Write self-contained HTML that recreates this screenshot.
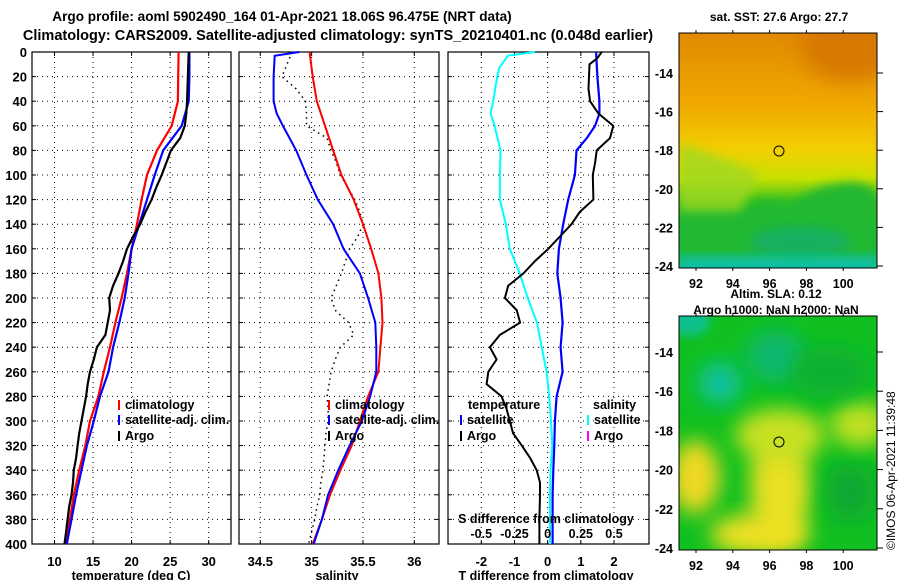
<!DOCTYPE html>
<html><head><meta charset="utf-8">
<style>
body{margin:0;background:#fff;}
svg{display:block;font-family:"Liberation Sans",sans-serif;font-weight:bold;}
</style></head>
<body>
<svg id="fig" width="900" height="580" viewBox="0 0 900 580">
<defs>
<filter id="blur1" x="-20%" y="-20%" width="140%" height="140%"><feGaussianBlur stdDeviation="5"/></filter>
<filter id="blur2" x="-30%" y="-30%" width="160%" height="160%"><feGaussianBlur stdDeviation="10"/></filter>
<linearGradient id="sstg" x1="0" y1="0" x2="0" y2="1">
<stop offset="0" stop-color="#e08a00"/><stop offset="0.3" stop-color="#f0a800"/>
<stop offset="0.5" stop-color="#f2d000"/><stop offset="0.62" stop-color="#c8e000"/>
<stop offset="0.72" stop-color="#30c020"/><stop offset="0.9" stop-color="#10b840"/><stop offset="1" stop-color="#10c8a0"/>
</linearGradient>
<clipPath id="clipA"><rect x="679" y="33" width="198" height="235"/></clipPath>
<clipPath id="clipB"><rect x="679" y="316" width="198" height="234"/></clipPath>
</defs>
<text x="282" y="21" font-size="13.6" text-anchor="middle">Argo profile: aoml 5902490_164 01-Apr-2021 18.06S 96.475E (NRT data)</text>
<text x="338" y="40" font-size="14.5" text-anchor="middle">Climatology: CARS2009. Satellite-adjusted climatology: synTS_20210401.nc (0.048d earlier)</text>

<!-- SST map -->
<g>
<g clip-path="url(#clipA)">
<g transform="translate(0,33) scale(1,1.035) translate(0,-33)">
<rect x="679" y="33" width="198" height="227" fill="url(#sstg)"/>
<ellipse cx="850" cy="45" rx="50" ry="35" fill="#d87800" filter="url(#blur2)"/>
<path d="M679,205 L740,205 Q760,190 790,200 Q820,175 860,178 L877,185 L877,260 L679,260 Z" fill="#20b830" filter="url(#blur1)"/>
<path d="M679,140 Q720,150 760,170 L740,205 L679,205 Z" fill="#a0d820" filter="url(#blur1)" opacity="0.8"/>
<ellipse cx="800" cy="235" rx="50" ry="15" fill="#18b060" filter="url(#blur1)"/>
<rect x="679" y="248" width="198" height="20" fill="#10c0a0" filter="url(#blur1)"/>
</g>
</g>
<rect x="679" y="33" width="198" height="235" fill="none" stroke="#000"/>
<circle cx="779" cy="151" r="5" fill="none" stroke="#000"/>
</g>
<text x="779" y="21" font-size="12" text-anchor="middle">sat. SST: 27.6 Argo: 27.7</text>
<text x="776" y="298" font-size="12" text-anchor="middle">Altim. SLA: 0.12</text>
<text x="776" y="314" font-size="12" text-anchor="middle">Argo h1000: NaN h2000: NaN</text>

<!-- SLA map -->
<g>
<g clip-path="url(#clipB)">
<g transform="translate(0,316) scale(1,1.045) translate(0,-316)">
<rect x="679" y="316" width="198" height="224" fill="#10c020"/>
<ellipse cx="780" cy="480" rx="30" ry="55" fill="#e8e020" filter="url(#blur2)"/>
<ellipse cx="780" cy="430" rx="45" ry="25" fill="#c8e020" filter="url(#blur2)"/>
<ellipse cx="695" cy="470" rx="25" ry="35" fill="#f0d820" filter="url(#blur2)"/>
<ellipse cx="860" cy="420" rx="30" ry="22" fill="#c0e020" filter="url(#blur2)"/>
<ellipse cx="760" cy="525" rx="50" ry="20" fill="#f0e020" filter="url(#blur2)"/>
<ellipse cx="720" cy="380" rx="22" ry="20" fill="#10c0a0" filter="url(#blur2)"/>
<ellipse cx="776" cy="355" rx="30" ry="25" fill="#10b870" filter="url(#blur2)"/>
<ellipse cx="830" cy="370" rx="40" ry="25" fill="#10b030" filter="url(#blur2)"/>
<ellipse cx="690" cy="320" rx="20" ry="15" fill="#10c090" filter="url(#blur1)"/>
<ellipse cx="850" cy="485" rx="25" ry="28" fill="#10a830" filter="url(#blur2)"/>
</g>
</g>
<rect x="679" y="316" width="198" height="234" fill="none" stroke="#000"/>
<circle cx="779" cy="442" r="5" fill="none" stroke="#000"/>
</g>
<text transform="translate(895,550) rotate(-90)" font-size="12" font-weight="normal">©IMOS 06-Apr-2021 11:39:48</text>
<g id="plots"></g>
</svg>
<script>
// ---- data ----
var depths = [0,20,40,60,80,100,120,140,160,180,200,220,240,260,280,300,320,340,360,380,400];
var tempClim = [26.1,26.05,26.0,25.2,23.3,22.0,21.3,20.7,20.0,19.4,18.7,17.9,17.2,16.4,15.7,14.6,14.0,13.2,12.5,12.0,11.5];
var tempSat  = [27.5,27.5,27.4,26.5,24.1,23.0,22.0,21.0,20.0,19.6,19.1,18.4,17.6,17.0,15.9,15.1,14.2,13.5,12.8,12.2,11.6];
var argoDepths = [0,20,40,50,60,70,80,90,100,110,120,130,140,150,160,170,180,190,200,210,220,230,240,250,260,270,280,290,300,310,320,330,340,350,360,370,380,390,400];
var tempArgo = [27.4,27.3,27.2,27.1,26.9,26.3,25.1,24.5,23.9,23.2,22.6,21.8,21.1,20.2,19.4,18.9,18.3,17.6,17.1,17.2,16.9,16.6,15.5,15.1,14.6,14.3,14.1,13.8,13.5,13.2,13.0,12.8,12.5,12.4,12.2,11.9,11.7,11.5,11.3];
var salClim = [34.98,35.01,35.05,35.13,35.21,35.29,35.41,35.50,35.58,35.65,35.68,35.69,35.67,35.65,35.55,35.47,35.39,35.28,35.18,35.10,35.01];
var salSatDepths = [0,3,20,40,50,60,80,100,120,140,160,180,200,220,240,260,280,300,320,340,360,380,400];
var salSat = [34.88,34.64,34.63,34.63,34.66,34.72,34.85,34.95,35.06,35.21,35.31,35.47,35.55,35.62,35.63,35.63,35.57,35.49,35.37,35.26,35.16,35.10,35.02];
var salArgo = [34.81,34.76,34.71,34.85,34.94,34.95,34.95,35.15,35.19,35.24,35.28,35.35,35.42,35.47,35.50,35.45,35.37,35.33,35.29,35.24,35.19,35.23,35.36,35.41,35.28,35.23,35.19,35.17,35.15,35.16,35.16,35.14,35.13,35.12,35.11,35.09,35.08,35.05,35.03,35.00,34.97];
var salArgoDepths = [0,10,20,30,40,50,60,70,80,90,100,110,120,130,140,150,160,170,180,190,200,210,220,230,240,250,260,270,280,290,300,310,320,330,340,350,360,370,380,390,400];
var tdiffDepths = [0,10,20,40,50,60,70,80,100,120,140,160,180,200,220,240,260,280,300,320,340,360,380,400];
var tdiffSat = [1.46,1.48,1.50,1.56,1.56,1.43,1.18,0.87,0.82,0.62,0.47,0.34,0.29,0.39,0.45,0.39,0.45,0.27,0.22,0.20,0.17,0.15,0.15,0.15];
var tdiffArgoDepths = [0,5,10,30,40,50,60,70,80,90,100,120,130,140,150,160,170,180,190,200,210,220,230,240,250,260,270,280,290,300,310,320,330,340,350,360,380,400];
var tdiffArgo = [1.63,1.5,1.26,1.23,1.28,1.53,1.98,1.88,1.48,1.43,1.36,1.38,0.97,0.72,0.37,0.02,-0.38,-0.73,-1.19,-1.29,-0.93,-0.83,-1.44,-1.74,-1.54,-1.79,-1.84,-1.39,-1.24,-1.14,-1.04,-0.78,-0.53,-0.33,-0.23,-0.23,-0.25,-0.25];
var sdiffDepths = [0,3,13,20,40,50,60,80,100,120,140,160,180,200,220,240,260,280,300,320,340,360,380,400];
var sdiffSat = [-0.095,-0.3,-0.365,-0.38,-0.41,-0.43,-0.40,-0.355,-0.36,-0.36,-0.315,-0.285,-0.21,-0.15,-0.08,-0.045,-0.008,0.012,0.025,0.035,0.022,0.018,0.018,0.018];
var depthTicks = [0,20,40,60,80,100,120,140,160,180,200,220,240,260,280,300,320,340,360,380,400];
var tempTicks = [10,15,20,25,30];
var salTicks = [34.5,35,35.5,36];
var tdiffTicks = [-2,-1,0,1,2];
var sdiffTicks = [-0.5,-0.25,0,0.25,0.5];
var sdiffTickLabels = ["-0.5","-0.25","0","0.25","0.5"];

// ---- layout ----
var NS="http://www.w3.org/2000/svg";
var root=document.getElementById('plots');
var Y0=52,Y1=544;
function yD(d){return Y0+(d/400)*(Y1-Y0);}
function el(tag,attrs,parent){var e=document.createElementNS(NS,tag);for(var k in attrs)e.setAttribute(k,attrs[k]);(parent||root).appendChild(e);return e;}
function linear(d0,d1,r0,r1){return function(v){return r0+(v-d0)/(d1-d0)*(r1-r0);};}
var xT=linear(10,30,54.5,208.7);
var xS=linear(34.5,36,260.3,414.3);
var xTd=linear(-2,2,481.3,614);
var xSd=function(v){return xTd(v*4);};

function panel(name,x0,x1,xf,ticks,labels,showY){
  var g=el('g',{});
  
  
  depthTicks.forEach(function(d){
    if(d>0&&d<400){var l=el('line',{x1:x0,x2:x1,y1:yD(d),y2:yD(d),stroke:'#000','stroke-dasharray':'1,4','stroke-width':1},g);
    
    }
    el('line',{x1:x0,x2:x0+4,y1:yD(d),y2:yD(d),stroke:'#000'},g);
    el('line',{x1:x1-4,x2:x1,y1:yD(d),y2:yD(d),stroke:'#000'},g);
    if(showY){var t=el('text',{x:27,y:yD(d)+5,'font-size':13,'text-anchor':'end'},g);t.textContent=d;
      
      }
  });
  ticks.forEach(function(v,i){
    var x=xf(v);
    var l=el('line',{x1:x,x2:x,y1:Y0,y2:Y1,stroke:'#000','stroke-dasharray':'1,4'},g);
    
    
    el('line',{x1:x,x2:x,y1:Y0,y2:Y0+4,stroke:'#000'},g);
    el('line',{x1:x,x2:x,y1:Y1-4,y2:Y1,stroke:'#000'},g);
    if(labels){var t=el('text',{x:x,y:Y1+22,'font-size':13,'text-anchor':'middle'},g);t.textContent=labels[i];
      
      }
  });
  el('rect',{x:x0,y:Y0,width:x1-x0,height:Y1-Y0,fill:'none',stroke:'#000','stroke-width':1.2},g);
  return g;
}
function series(g,name,xs,ds,xf,color,w,dash){
  var pts=xs.map(function(v,i){return xf(v).toFixed(1)+','+yD(ds[i]).toFixed(1);}).join(' ');
  var p=el('polyline',{points:pts,fill:'none',stroke:color,'stroke-width':w},g);
  if(dash)p.setAttribute('stroke-dasharray',dash);
  
  
}
function label(g,name,txt,x,y,anchor,size){
  var t=el('text',{x:x,y:y,'font-size':size||12.5,'text-anchor':anchor||'start'},g);t.textContent=txt;
  
  
}
function legendTick(g,x,y,color){
  var l=el('line',{x1:x,x2:x,y1:y-9,y2:y+1,stroke:color,'stroke-width':2},g);
  
  
}

// panel 1 temperature
var p1=panel('temperature-panel',32,231,xT,tempTicks,tempTicks,true);
series(p1,'temp-climatology-line',tempClim,depths,xT,'#f00',2.2);
series(p1,'temp-satellite-line',tempSat,depths,xT,'#00f',2.2);
series(p1,'temp-argo-line',tempArgo,argoDepths,xT,'#000',2.2);
label(p1,'temperature-axis-title','temperature (deg C)',131,580,'middle');
legendTick(p1,119,409,'#f00');label(p1,'legend-climatology','climatology',125,409);
legendTick(p1,119,424,'#00f');label(p1,'legend-satellite-adj','satellite-adj. clim.',125,424);
legendTick(p1,119,440,'#000');label(p1,'legend-argo','Argo',125,440);

// panel 2 salinity
var p2=panel('salinity-panel',239,439,xS,salTicks,salTicks,false);
series(p2,'sal-argo-line',salArgo,salArgoDepths,xS,'#000',1.5,'1.5,4');
series(p2,'sal-climatology-line',salClim,depths,xS,'#f00',2);
series(p2,'sal-satellite-line',salSat,salSatDepths,xS,'#00f',2);
label(p2,'salinity-axis-title','salinity',337,580,'middle');
legendTick(p2,329,409,'#f00');label(p2,'legend-climatology-2','climatology',335,409);
legendTick(p2,329,424,'#00f');label(p2,'legend-satellite-adj-2','satellite-adj. clim.',335,424);
legendTick(p2,329,440,'#000');label(p2,'legend-argo-2','Argo',335,440);

// panel 3 differences
var p3=panel('difference-panel',448,649,xTd,tdiffTicks,tdiffTicks,false);
series(p3,'sdiff-satellite-line',sdiffSat,sdiffDepths,xSd,'#0ff',2);
series(p3,'tdiff-satellite-line',tdiffSat,tdiffDepths,xTd,'#00f',2.2);
series(p3,'tdiff-argo-line',tdiffArgo,tdiffArgoDepths,xTd,'#000',2);
label(p3,'tdiff-axis-title','T difference from climatology',546,580,'middle');
label(p3,'sdiff-axis-title','S difference from climatology',546,523,'middle');
sdiffTicks.forEach(function(v,i){label(p3,'sdiff-tick-label',sdiffTickLabels[i],xSd(v),538,'middle');});
label(p3,'legend-temperature-header','temperature',468,409);
label(p3,'legend-salinity-header','salinity',593,409);
legendTick(p3,461,424,'#00f');label(p3,'legend-t-satellite','satellite',467,424);
legendTick(p3,461,440,'#000');label(p3,'legend-t-argo','Argo',467,440);
legendTick(p3,588,424,'#0ff');label(p3,'legend-s-satellite','satellite',594,424);
legendTick(p3,588,440,'#f0f');label(p3,'legend-s-argo','Argo',594,440);

// map axes
var lats=[-14,-16,-18,-20,-22,-24];
var lons=[92,94,96,98,100];
function mapAxes(name,top,bottom,latY,lonLabelY){
  var g=el('g',{});
  
  
  lats.forEach(function(la){var y=latY(la);
    el('line',{x1:877,x2:883,y1:y,y2:y,stroke:'#000'},g);
    label(g,'lat-tick-label',String(la),673,y+5,'end');});
  lons.forEach(function(lo){var x=696+(lo-92)*18.4;
    el('line',{x1:x,x2:x,y1:top-3,y2:top,stroke:'#000'},g);
    el('line',{x1:x,x2:x,y1:bottom,y2:bottom+3,stroke:'#000'},g);
    label(g,'lon-tick-label',String(lo),x,lonLabelY,'middle');});
}
mapAxes('sst-map-axes',33,268,function(la){return 73+(-14-la)*19.3;},288);
mapAxes('sla-map-axes',316,550,function(la){return 352+(-14-la)*19.6;},570);
</script>
</body></html>
